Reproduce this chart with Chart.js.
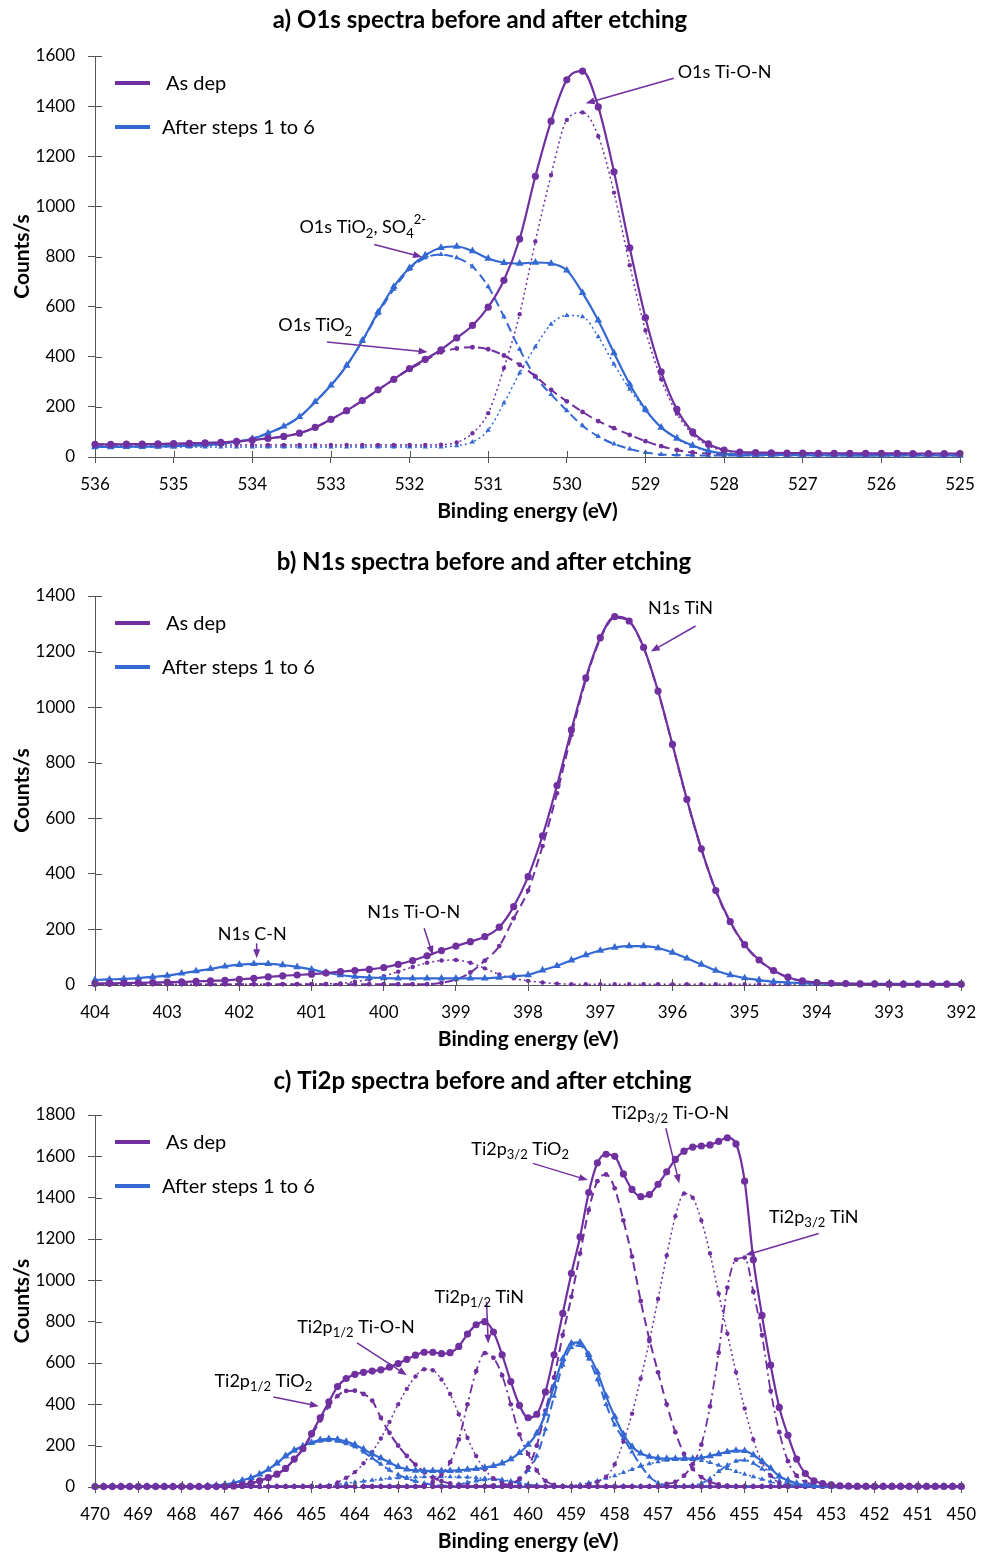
<!DOCTYPE html>
<html lang="en">
<head>
<meta charset="UTF-8">
<title>XPS spectra before and after etching</title>
<script src="https://cdn.jsdelivr.net/npm/chart.js"></script>
<style>
  body { margin: 0; background: #fff; }
  canvas { position: absolute; left: 0; }
</style>
</head>
<body>
<canvas id="cA" width="987" height="525" style="top:0px"></canvas>
<canvas id="cB" width="987" height="513" style="top:540px"></canvas>
<canvas id="cC" width="987" height="497" style="top:1058px"></canvas>

<script>
// energy grids (eV), 0.2 eV steps
function energyGrid(from, to) {
  const out = [];
  for (let i = 0; from - 0.2 * i >= to - 1e-9; i++) out.push(+(from - 0.2 * i).toFixed(1));
  return out;
}
const eA = energyGrid(536, 525);   // 56 points
const eB = energyGrid(404, 392);   // 61 points
const eC = energyGrid(470, 450);   // 101 points

// ---- a) O1s ----
const a_dep_env = [50,50,51,51,52,53,54,56,58,62, 67,74,82,95,118,150,185,225,268,310,
  353,390,428,475,525,598,705,870,1120,1340, 1505,1540,1397,1138,835,556,340,190,100,52,
  28,20,18,17,16,16,15,15,15,15, 15,15,14,14,14,14];
const a_dep_tio2 = [50,50,51,51,52,53,54,56,58,62, 67,74,82,95,118,150,185,225,268,310,
  350,385,418,433,438,430,405,368,322,268, 222,180,143,115,88,63,43,28,18,14,
  12,11,11,11,10,10,10,10,10,10, 10,10,10,10,10,10];
const a_dep_tion = [48,48,48,48,48,48,48,48,48,48, 48,48,48,48,48,48,48,48,48,48,
  48,48,49,58,95,175,355,570,860,1125, 1345,1375,1280,1055,765,505,310,173,90,45,
  25,18,16,15,15,14,14,14,14,14, 14,14,14,14,14,14];
const a_aft_env = [40,40,41,41,42,43,45,48,53,61, 73,95,122,160,220,286,365,465,578,680,
  755,805,835,840,822,792,775,772,776,772, 745,655,545,415,290,190,118,75,46,25,
  14,10,9,8,8,7,7,7,7,6, 6,6,6,6,6,6];
const a_aft_tio2 = [40,40,41,41,42,43,45,48,53,61, 73,95,122,160,220,286,365,462,572,670,
  750,795,808,795,760,680,560,430,320,250, 185,125,82,52,32,18,10,8,7,6,
  6,6,6,6,6,6,6,6,6,6, 6,6,6,6,6,6];
const a_aft_tion = [40,40,40,40,40,40,40,40,40,40, 40,40,40,40,40,40,40,40,40,40,
  40,40,40,45,60,107,215,335,440,530, 565,560,480,370,270,185,118,72,43,22,
  12,9,8,7,7,6,6,6,6,6, 6,6,6,6,6,6];

// ---- b) N1s ----
const b_dep_env = [5,6,7,8,9,10,11,13,15,17, 20,24,29,33,36,39,43,48,52,56,
  63,74,88,105,124,140,156,174,208,282, 390,537,718,918,1105,1250,1326,1310,1215,1058,
  866,668,490,340,228,145,90,52,28,15, 9,6,5,4,4,3,3,3,3,3, 3];
const b_dep_tin = [3,3,3,3,3,3,3,3,3,3, 3,3,3,3,3,3,3,3,3,3,
  3,3,3,3,8,20,45,88,140,240, 340,500,690,900,1098,1245,1322,1308,1213,1056,
  864,666,488,338,226,143,88,50,27,14, 8,5,4,3,3,3,3,3,3,3, 3];
const b_dep_tion = [3,3,3,3,3,3,3,3,3,3, 3,3,3,3,3,3,4,6,12,20,
  32,48,65,80,88,90,80,60,38,24, 15,9,5,3,3,3,3,3,3,3,
  3,3,3,3,3,3,3,3,3,3, 3,3,3,3,3,3,3,3,3,3, 3];
const b_aft_env = [18,20,22,25,29,34,42,50,58,67, 73,76,76,72,65,56,45,36,30,27,
  25,24,24,24,24,24,24,24,27,32, 36,53,69,89,108,124,135,140,140,133,
  117,96,74,52,36,25,18,12,9,7, 5,5,4,4,4,4,4,4,4,4, 4];

// ---- c) Ti2p ----
const c_dep_env = [2,2,2,2,2,2,2,2,2,2, 2,2,2,2,2,3,5,10,18,30,
  45,62,90,135,185,258,335,412,486,525, 545,555,561,567,580,597,618,638,652,652,
  645,650,680,740,785,800,750,640,510,395, 335,352,460,640,840,1034,1210,1425,1568,1610,
  1600,1515,1440,1405,1415,1465,1525,1585,1625,1645, 1650,1655,1672,1690,1660,1480,1100,830,590,385,
  250,135,65,30,17,10,6,4,3,3, 3,3,3,3,3,3,3,3,3,3, 3];
const c_dep_tio2_12 = [2,2,2,2,2,2,2,2,2,2, 2,2,2,2,2,3,5,10,18,30,
  45,62,90,133,182,250,322,390,440,465, 466,450,418,335,262,200,150,108,72,45,
  28,17,10,6,4,3,2,2,2,2, 2,2,2,2,2,2,2,2,2,2,
  2,2,2,2,2,2,2,2,2,2, 2,2,2,2,2,2,2,2,2,2,
  2,2,2,2,2,2,2,2,2,2, 2,2,2,2,2,2,2,2,2,2, 2];
const c_dep_tion_12 = [2,2,2,2,2,2,2,2,2,2, 2,2,2,2,2,2,2,2,2,2,
  2,2,2,2,2,2,2,5,22,45, 72,115,170,235,315,400,475,535,570,565,
  520,450,352,238,150,85,42,20,9,5, 3,2,2,2,2,2,2,2,2,2,
  2,2,2,2,2,2,2,2,2,2, 2,2,2,2,2,2,2,2,2,2,
  2,2,2,2,2,2,2,2,2,2, 2,2,2,2,2,2,2,2,2,2, 2];
const c_dep_tin_12 = [2,2,2,2,2,2,2,2,2,2, 2,2,2,2,2,2,2,2,2,2,
  2,2,2,2,2,2,2,2,2,2, 2,2,2,2,2,2,2,2,8,25,
  60,120,230,400,560,648,625,540,400,255, 160,80,30,10,4,2,2,2,2,2,
  2,2,2,2,2,2,2,2,2,2, 2,2,2,2,2,2,2,2,2,2,
  2,2,2,2,2,2,2,2,2,2, 2,2,2,2,2,2,2,2,2,2, 2];
const c_dep_tio2_32 = [2,2,2,2,2,2,2,2,2,2, 2,2,2,2,2,2,2,2,2,2,
  2,2,2,2,2,2,2,2,2,2, 2,2,2,2,2,2,2,2,2,2,
  2,2,2,2,3,5,8,10,15,40, 95,200,370,530,735,920,1130,1340,1480,1512,
  1445,1290,1115,900,715,555,400,265,160,88, 48,25,12,6,3,2,2,2,2,2,
  2,2,2,2,2,2,2,2,2,2, 2,2,2,2,2,2,2,2,2,2, 2];
const c_dep_tion_32 = [2,2,2,2,2,2,2,2,2,2, 2,2,2,2,2,2,2,2,2,2,
  2,2,2,2,2,2,2,2,2,2, 2,2,2,2,2,2,2,2,2,2,
  2,2,2,2,2,2,2,2,2,2, 2,2,2,2,2,2,5,12,25,50,
  110,220,355,525,705,910,1120,1310,1420,1400, 1290,1130,935,743,555,380,230,120,55,20,
  8,4,2,2,2,2,2,2,2,2, 2,2,2,2,2,2,2,2,2,2, 2];
const c_dep_tin_32 = [2,2,2,2,2,2,2,2,2,2, 2,2,2,2,2,2,2,2,2,2,
  2,2,2,2,2,2,2,2,2,2, 2,2,2,2,2,2,2,2,2,2,
  2,2,2,2,2,2,2,2,2,2, 2,2,2,2,2,2,2,2,2,2,
  2,2,2,2,2,5,15,25,55,110, 205,390,650,965,1100,1110,945,735,465,265,
  125,55,25,12,6,3,2,2,2,2, 2,2,2,2,2,2,2,2,2,2, 2];
const c_aft_env = [3,3,3,3,3,3,3,3,3,3, 3,3,3,5,8,12,20,32,45,62,
  85,115,150,178,198,215,228,233,230,220, 205,183,160,140,118,98,86,80,78,78,
  78,78,80,84,88,94,102,115,135,165, 205,260,355,490,620,695,700,640,555,440,
  340,255,195,163,147,140,137,137,137,137, 142,150,160,170,176,175,155,125,90,52,
  32,17,10,6,4,3,3,3,3,3, 3,3,3,3,3,3,3,3,3,3, 3];
const c_aft_tio2_12 = [3,3,3,3,3,3,3,3,3,3, 3,3,3,5,8,12,20,32,45,62,
  85,113,147,175,195,212,222,226,222,210, 195,170,140,110,82,60,42,28,18,11,
  7,5,3,3,3,3,3,3,3,3, 3,3,3,3,3,3,3,3,3,3,
  3,3,3,3,3,3,3,3,3,3, 3,3,3,3,3,3,3,3,3,3,
  3,3,3,3,3,3,3,3,3,3, 3,3,3,3,3,3,3,3,3,3, 3];
const c_aft_tion_12 = [3,3,3,3,3,3,3,3,3,3, 3,3,3,3,3,3,3,3,3,3,
  3,3,3,3,3,4,6,9,13,18, 23,28,33,38,42,45,47,48,49,50,
  50,49,48,47,45,42,38,32,25,18, 12,8,5,3,3,3,3,3,3,3,
  3,3,3,3,3,3,3,3,3,3, 3,3,3,3,3,3,3,3,3,3,
  3,3,3,3,3,3,3,3,3,3, 3,3,3,3,3,3,3,3,3,3, 3];
const c_aft_tin_12 = [3,3,3,3,3,3,3,3,3,3, 3,3,3,3,3,3,3,3,3,3,
  3,3,3,3,3,3,3,3,3,3, 3,3,3,3,3,3,3,3,3,3,
  5,8,14,22,30,36,38,35,28,20, 12,7,4,3,3,3,3,3,3,3,
  3,3,3,3,3,3,3,3,3,3, 3,3,3,3,3,3,3,3,3,3,
  3,3,3,3,3,3,3,3,3,3, 3,3,3,3,3,3,3,3,3,3, 3];
const c_aft_tio2_32 = [3,3,3,3,3,3,3,3,3,3, 3,3,3,3,3,3,3,3,3,3,
  3,3,3,3,3,3,3,3,3,3, 3,3,3,3,3,3,3,3,3,3,
  3,3,3,3,3,3,5,8,15,35, 80,150,280,440,590,675,685,620,520,400,
  300,235,170,105,50,20,8,4,3,3, 3,3,3,3,3,3,3,3,3,3,
  3,3,3,3,3,3,3,3,3,3, 3,3,3,3,3,3,3,3,3,3, 3];
const c_aft_tion_32 = [3,3,3,3,3,3,3,3,3,3, 3,3,3,3,3,3,3,3,3,3,
  3,3,3,3,3,3,3,3,3,3, 3,3,3,3,3,3,3,3,3,3,
  3,3,3,3,3,3,3,3,3,3, 3,3,3,3,5,8,12,20,30,42,
  55,70,85,100,112,122,130,135,137,135, 128,118,105,90,75,62,50,38,25,14,
  7,4,3,3,3,3,3,3,3,3, 3,3,3,3,3,3,3,3,3,3, 3];
const c_aft_tin_32 = [3,3,3,3,3,3,3,3,3,3, 3,3,3,3,3,3,3,3,3,3,
  3,3,3,3,3,3,3,3,3,3, 3,3,3,3,3,3,3,3,3,3,
  3,3,3,3,3,3,3,3,3,3, 3,3,3,3,3,3,3,3,3,3,
  3,3,3,3,3,3,3,3,5,8, 18,40,75,105,125,130,115,88,55,30,
  15,7,4,3,3,3,3,3,3,3, 3,3,3,3,3,3,3,3,3,3, 3];

const PURPLE = '#7030a0';
const BLUE = '#3468d2';
const FONT = 'Lato, "Noto Sans", sans-serif';

Chart.defaults.font.family = FONT;
Chart.defaults.color = '#000';

// line looks
const KINDS = {
  env:     { w: 2.2, dash: [],           r: 3.6 },
  dash:    { w: 2,   dash: [9, 5],       r: 2.4 },
  dot:     { w: 1.5, dash: [2, 3],       r: 2.2 },
  dashdot: { w: 1.8, dash: [9, 4, 2, 4], r: 2.4 }
};

function series(xs, ys, color, kind) {
  const k = KINDS[kind];
  const tri = color === BLUE;
  return {
    data: xs.map((x, i) => ({ x: x, y: ys[i] })),
    borderColor: color,
    backgroundColor: color,
    borderWidth: k.w,
    borderDash: k.dash,
    pointStyle: tri ? 'triangle' : 'circle',
    pointRadius: tri ? k.r + 0.8 : k.r,
    pointBorderWidth: 0,
    cubicInterpolationMode: 'monotone',
    fill: false,
    clip: false
  };
}

// annotation text runs + arrows, in data coordinates
const NOTES = {
  cA: [
    { at: [528.59, 1534], runs: ['O1s Ti-O-N'], arrow: [528.64, 1511, 529.76, 1411] },
    { at: [533.40, 916], runs: ['O1s TiO', ['2', 'sub'], ', SO', ['4', 'sub'], ['2-', 'sup']], arrow: [532.45, 848, 531.84, 798] },
    { at: [533.67, 525], runs: ['O1s TiO', ['2', 'sub']], arrow: [533.05, 459, 531.77, 419] }
  ],
  cB: [
    { at: [396.34, 1357], runs: ['N1s TiN'], arrow: [395.68, 1292, 396.30, 1200] },
    { at: [400.23, 263], runs: ['N1s Ti-O-N'], arrow: [399.44, 204, 399.32, 108] },
    { at: [402.30, 184], runs: ['N1s C-N'], arrow: [401.76, 150, 401.76, 96] }
  ],
  cC: [
    { at: [467.24, 512], runs: ['Ti2p', ['1/2', 'sub'], ' TiO', ['2', 'sub']], arrow: [465.88, 436, 464.83, 391] },
    { at: [465.33, 773], runs: ['Ti2p', ['1/2', 'sub'], ' Ti-O-N'], arrow: [463.95, 697, 462.80, 541] },
    { at: [462.16, 919], runs: ['Ti2p', ['1/2', 'sub'], ' TiN'], arrow: [460.96, 896, 460.92, 694] },
    { at: [461.31, 1635], runs: ['Ti2p', ['3/2', 'sub'], ' TiO', ['2', 'sub']], arrow: [459.89, 1566, 458.62, 1485] },
    { at: [458.07, 1810], runs: ['Ti2p', ['3/2', 'sub'], ' Ti-O-N'], arrow: [456.82, 1736, 456.51, 1469] },
    { at: [454.44, 1306], runs: ['Ti2p', ['3/2', 'sub'], ' TiN'], arrow: [453.29, 1227, 454.98, 1122] }
  ]
};

function drawRuns(ctx, x, y, runs) {
  ctx.textBaseline = 'middle';
  ctx.textAlign = 'left';
  ctx.fillStyle = '#000';
  runs.forEach(r => {
    let txt = r, dy = 0, size = 18;
    if (Array.isArray(r)) {
      txt = r[0];
      size = 13;
      dy = r[1] === 'sub' ? 6 : -8;
    }
    ctx.font = size + 'px ' + FONT;
    ctx.fillText(txt, x, y + dy);
    x += ctx.measureText(txt).width;
  });
}

function drawArrow(ctx, x1, y1, x2, y2) {
  const ang = Math.atan2(y2 - y1, x2 - x1);
  ctx.beginPath();
  ctx.moveTo(x1, y1);
  ctx.lineTo(x2 - 6 * Math.cos(ang), y2 - 6 * Math.sin(ang));
  ctx.stroke();
  ctx.beginPath();
  ctx.moveTo(x2, y2);
  ctx.lineTo(x2 - 9 * Math.cos(ang) + 3.5 * Math.sin(ang), y2 - 9 * Math.sin(ang) - 3.5 * Math.cos(ang));
  ctx.lineTo(x2 - 9 * Math.cos(ang) - 3.5 * Math.sin(ang), y2 - 9 * Math.sin(ang) + 3.5 * Math.cos(ang));
  ctx.closePath();
  ctx.fill();
}

const extras = {
  id: 'extras',
  afterDraw(chart) {
    const { ctx, chartArea: a, scales } = chart;
    const xs = scales.x, ys = scales.y;
    ctx.save();
    // inner halves of the tick marks
    ctx.strokeStyle = '#555';
    ctx.lineWidth = 1;
    ctx.beginPath();
    xs.ticks.forEach(t => {
      const px = Math.round(xs.getPixelForValue(t.value)) + 0.5;
      ctx.moveTo(px, a.bottom);
      ctx.lineTo(px, a.bottom - 6);
    });
    ys.ticks.forEach(t => {
      const py = Math.round(ys.getPixelForValue(t.value)) + 0.5;
      ctx.moveTo(a.left, py);
      ctx.lineTo(a.left + 7, py);
    });
    ctx.stroke();

    // legend key
    ctx.lineWidth = 4;
    [[PURPLE, 'As dep', 27, 71], [BLUE, 'After steps 1 to 6', 71, 67]].forEach(k => {
      ctx.strokeStyle = k[0];
      ctx.beginPath();
      ctx.moveTo(a.left + 20, a.top + k[2]);
      ctx.lineTo(a.left + 55, a.top + k[2]);
      ctx.stroke();
      ctx.fillStyle = '#000';
      ctx.font = '20px ' + FONT;
      ctx.textBaseline = 'middle';
      ctx.fillText(k[1], a.left + k[3], a.top + k[2] + 1);
    });

    // peak labels with arrows
    ctx.lineWidth = 1.5;
    (NOTES[chart.canvas.id] || []).forEach(n => {
      const ar = n.arrow;
      ctx.strokeStyle = PURPLE;
      ctx.fillStyle = PURPLE;
      drawArrow(ctx, xs.getPixelForValue(ar[0]), ys.getPixelForValue(ar[1]),
                xs.getPixelForValue(ar[2]), ys.getPixelForValue(ar[3]));
      drawRuns(ctx, xs.getPixelForValue(n.at[0]), ys.getPixelForValue(n.at[1]), n.runs);
    });
    ctx.restore();
  }
};

function makeChart(id, o) {
  return new Chart(document.getElementById(id), {
    type: 'line',
    data: { datasets: o.sets },
    options: {
      responsive: false,
      animation: false,
      layout: { padding: { top: 0, right: o.padRight, bottom: 0, left: 0 } },
      plugins: {
        legend: { display: false },
        tooltip: { enabled: false },
        title: {
          display: true, text: o.title, color: '#000',
          font: { size: 24, weight: 'bold', family: FONT },
          padding: { top: o.tTop, bottom: o.tBottom }
        }
      },
      scales: {
        x: {
          type: 'linear', reverse: true, min: o.xmin, max: o.xmax,
          afterFit: s => { s.height = 68; },
          ticks: { stepSize: 1, padding: 11, color: '#000', font: { size: 17 }, callback: v => v },
          grid: { drawOnChartArea: false, tickLength: 6, color: '#555' },
          border: { color: '#555', width: 1 },
          title: { display: true, text: 'Binding energy (eV)', color: '#000',
                   font: { size: 21, weight: 'bold' }, padding: { top: 0, bottom: 1.4 } }
        },
        y: {
          min: 0, max: o.ymax,
          afterFit: s => { s.width = 95; },
          ticks: { stepSize: 200, padding: 13, color: '#000', font: { size: 17 }, callback: v => v },
          grid: { drawOnChartArea: false, tickLength: 7, color: '#555' },
          border: { color: '#555', width: 1 },
          title: { display: true, text: 'Counts/s', color: '#000',
                   font: { size: 21, weight: 'bold' }, padding: { top: 9.4, bottom: 0 } }
        }
      }
    },
    plugins: [extras]
  });
}

makeChart('cA', {
  title: 'a) O1s spectra before and after etching',
  xmin: 525, xmax: 536, ymax: 1600, padRight: 27, tTop: 5.6, tBottom: 21.6,
  sets: [
    series(eA, a_dep_env, PURPLE, 'env'),
    series(eA, a_aft_env, BLUE, 'env'),
    series(eA, a_dep_tio2, PURPLE, 'dash'),
    series(eA, a_dep_tion, PURPLE, 'dot'),
    series(eA, a_aft_tio2, BLUE, 'dash'),
    series(eA, a_aft_tion, BLUE, 'dot')
  ]
});

makeChart('cB', {
  title: 'b) N1s spectra before and after etching',
  xmin: 392, xmax: 404, ymax: 1400, padRight: 19, tTop: 7.6, tBottom: 19.6,
  sets: [
    series(eB, b_dep_env, PURPLE, 'env'),
    series(eB, b_aft_env, BLUE, 'env'),
    series(eB, b_dep_tin, PURPLE, 'dash'),
    series(eB, b_dep_tion, PURPLE, 'dot')
  ]
});

makeChart('cC', {
  title: 'c) Ti2p spectra before and after etching',
  xmin: 450, xmax: 470, ymax: 1800, padRight: 22, tTop: 8.6, tBottom: 19.6,
  sets: [
    series(eC, c_dep_env, PURPLE, 'env'),
    series(eC, c_aft_env, BLUE, 'env'),
    series(eC, c_dep_tio2_12, PURPLE, 'dash'),
    series(eC, c_dep_tio2_32, PURPLE, 'dash'),
    series(eC, c_dep_tion_12, PURPLE, 'dot'),
    series(eC, c_dep_tion_32, PURPLE, 'dot'),
    series(eC, c_dep_tin_12, PURPLE, 'dashdot'),
    series(eC, c_dep_tin_32, PURPLE, 'dashdot'),
    series(eC, c_aft_tio2_12, BLUE, 'dash'),
    series(eC, c_aft_tio2_32, BLUE, 'dash'),
    series(eC, c_aft_tion_12, BLUE, 'dot'),
    series(eC, c_aft_tion_32, BLUE, 'dot'),
    series(eC, c_aft_tin_12, BLUE, 'dashdot'),
    series(eC, c_aft_tin_32, BLUE, 'dashdot')
  ]
});
</script>
</body>
</html>
